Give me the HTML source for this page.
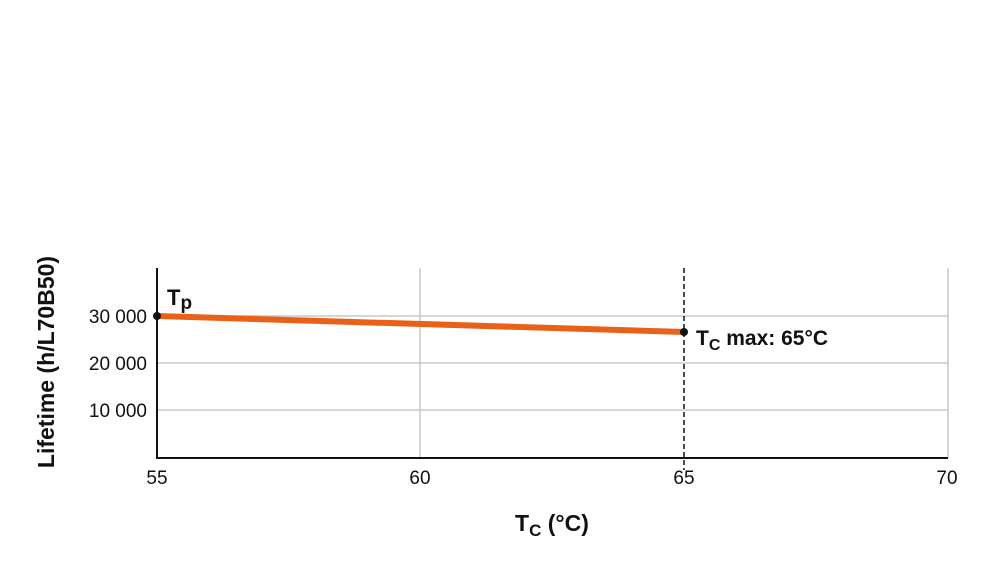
<!DOCTYPE html>
<html><head><meta charset="utf-8"><style>
html,body{margin:0;padding:0;background:#fff;}
svg{display:block;font-family:"Liberation Sans",Arial,sans-serif;}
</style></head><body>
<svg width="1000" height="568" viewBox="0 0 1000 568">
<g stroke="#c8c8c8" stroke-width="1.5">
<line x1="157" y1="316" x2="948" y2="316"/>
<line x1="157" y1="363" x2="948" y2="363"/>
<line x1="157" y1="410" x2="948" y2="410"/>
<line x1="420" y1="268" x2="420" y2="458"/>
<line x1="948" y1="268" x2="948" y2="458"/>
</g>
<line x1="684" y1="268" x2="684" y2="470" stroke="#111" stroke-width="1.5" stroke-dasharray="5,3"/>
<line x1="157" y1="268" x2="157" y2="458" stroke="#111" stroke-width="2"/>
<line x1="156" y1="458" x2="948" y2="458" stroke="#111" stroke-width="2"/>
<line x1="157" y1="316" x2="684" y2="332" stroke="#e8601a" stroke-width="6"/>
<circle cx="157" cy="316" r="4" fill="#111"/>
<circle cx="684" cy="332" r="4" fill="#111"/>
<g font-size="19" fill="#111" text-anchor="end">
<text x="147" y="323">30 000</text>
<text x="147" y="370">20 000</text>
<text x="147" y="417">10 000</text>
</g>
<g font-size="19" fill="#111" text-anchor="middle">
<text x="157" y="484">55</text>
<text x="420" y="484">60</text>
<text x="684" y="484">65</text>
<text x="947" y="484">70</text>
</g>
<text x="167" y="305" font-size="22" font-weight="bold" fill="#111">T<tspan font-size="19" dy="4">p</tspan></text>
<text x="696" y="345" font-size="21" font-weight="bold" fill="#111">T<tspan font-size="16" dy="5">C</tspan><tspan dy="-5"> max: 65°C</tspan></text>
<text x="515" y="531" font-size="23" font-weight="bold" fill="#111">T<tspan font-size="17" dy="5">C</tspan><tspan dy="-5"> (°C)</tspan></text>
<text transform="translate(54,362) rotate(-90)" font-size="23" font-weight="bold" fill="#111" text-anchor="middle">Lifetime (h/L70B50)</text>
</svg>
</body></html>
